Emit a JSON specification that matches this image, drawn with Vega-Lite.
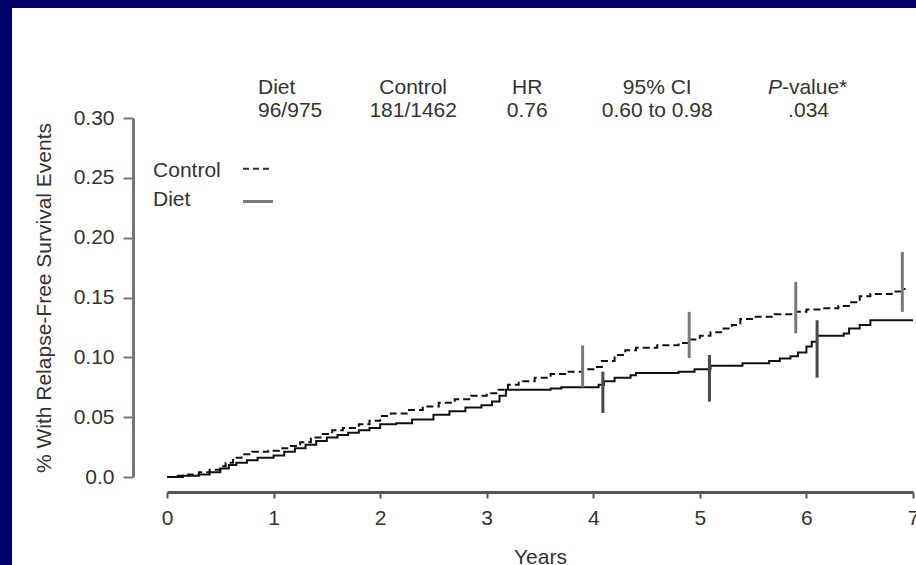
{
  "$schema": "https://vega.github.io/schema/vega-lite/v6.json",
  "width": 746,
  "height": 359,
  "autosize": {"type": "none"},
  "padding": {"left": 167, "top": 118, "right": 3, "bottom": 88},
  "background": "#00006a",
  "data": {"values": [{}]},
  "config": {
    "view": {"stroke": null},
    "font": "Liberation Sans",
    "text": {"font": "Liberation Sans", "fontSize": 21, "color": "#333", "baseline": "middle"},
    "axis": {"grid": false, "labelFont": "Liberation Sans", "titleFont": "Liberation Sans", "labelColor": "#333", "titleColor": "#333", "titleFontWeight": "normal", "labelFontSize": 21, "titleFontSize": 21}
  },
  "datasets": {
    "km": [
      {"series": "Control", "t": 0, "v": 0},
      {"series": "Control", "t": 0.1, "v": 0.001},
      {"series": "Control", "t": 0.2, "v": 0.002},
      {"series": "Control", "t": 0.3, "v": 0.004},
      {"series": "Control", "t": 0.4, "v": 0.006},
      {"series": "Control", "t": 0.5, "v": 0.009},
      {"series": "Control", "t": 0.55, "v": 0.012},
      {"series": "Control", "t": 0.62, "v": 0.016},
      {"series": "Control", "t": 0.7, "v": 0.019},
      {"series": "Control", "t": 0.8, "v": 0.021},
      {"series": "Control", "t": 0.95, "v": 0.022},
      {"series": "Control", "t": 1.05, "v": 0.024},
      {"series": "Control", "t": 1.15, "v": 0.026},
      {"series": "Control", "t": 1.25, "v": 0.029},
      {"series": "Control", "t": 1.35, "v": 0.033},
      {"series": "Control", "t": 1.45, "v": 0.036},
      {"series": "Control", "t": 1.55, "v": 0.039},
      {"series": "Control", "t": 1.65, "v": 0.041},
      {"series": "Control", "t": 1.8, "v": 0.044},
      {"series": "Control", "t": 1.9, "v": 0.047},
      {"series": "Control", "t": 2.0, "v": 0.051},
      {"series": "Control", "t": 2.1, "v": 0.053},
      {"series": "Control", "t": 2.25, "v": 0.056},
      {"series": "Control", "t": 2.4, "v": 0.059},
      {"series": "Control", "t": 2.55, "v": 0.062},
      {"series": "Control", "t": 2.7, "v": 0.065},
      {"series": "Control", "t": 2.85, "v": 0.068},
      {"series": "Control", "t": 3.0, "v": 0.07},
      {"series": "Control", "t": 3.1, "v": 0.073},
      {"series": "Control", "t": 3.2, "v": 0.077},
      {"series": "Control", "t": 3.3, "v": 0.08},
      {"series": "Control", "t": 3.45, "v": 0.083},
      {"series": "Control", "t": 3.6, "v": 0.086},
      {"series": "Control", "t": 3.75, "v": 0.088},
      {"series": "Control", "t": 3.9, "v": 0.09},
      {"series": "Control", "t": 4.0, "v": 0.092},
      {"series": "Control", "t": 4.08, "v": 0.097},
      {"series": "Control", "t": 4.2, "v": 0.102},
      {"series": "Control", "t": 4.3, "v": 0.106},
      {"series": "Control", "t": 4.4, "v": 0.108},
      {"series": "Control", "t": 4.6, "v": 0.11},
      {"series": "Control", "t": 4.8, "v": 0.112},
      {"series": "Control", "t": 4.9, "v": 0.115},
      {"series": "Control", "t": 5.0, "v": 0.118},
      {"series": "Control", "t": 5.1, "v": 0.121},
      {"series": "Control", "t": 5.2, "v": 0.124},
      {"series": "Control", "t": 5.3, "v": 0.127},
      {"series": "Control", "t": 5.38, "v": 0.132},
      {"series": "Control", "t": 5.5, "v": 0.134},
      {"series": "Control", "t": 5.7, "v": 0.136},
      {"series": "Control", "t": 5.9, "v": 0.138},
      {"series": "Control", "t": 6.0, "v": 0.14},
      {"series": "Control", "t": 6.15, "v": 0.141},
      {"series": "Control", "t": 6.3, "v": 0.143},
      {"series": "Control", "t": 6.42, "v": 0.146},
      {"series": "Control", "t": 6.5, "v": 0.151},
      {"series": "Control", "t": 6.6, "v": 0.153},
      {"series": "Control", "t": 6.8, "v": 0.155},
      {"series": "Control", "t": 6.9, "v": 0.157},
      {"series": "Control", "t": 6.93, "v": 0.157},
      {"series": "Diet", "t": 0, "v": 0},
      {"series": "Diet", "t": 0.15, "v": 0.001},
      {"series": "Diet", "t": 0.3, "v": 0.002},
      {"series": "Diet", "t": 0.4, "v": 0.004},
      {"series": "Diet", "t": 0.5, "v": 0.007},
      {"series": "Diet", "t": 0.58, "v": 0.01},
      {"series": "Diet", "t": 0.65, "v": 0.012},
      {"series": "Diet", "t": 0.75, "v": 0.014},
      {"series": "Diet", "t": 0.85, "v": 0.016},
      {"series": "Diet", "t": 1.0, "v": 0.018},
      {"series": "Diet", "t": 1.1, "v": 0.021},
      {"series": "Diet", "t": 1.2, "v": 0.024},
      {"series": "Diet", "t": 1.3, "v": 0.027},
      {"series": "Diet", "t": 1.4, "v": 0.03},
      {"series": "Diet", "t": 1.5, "v": 0.033},
      {"series": "Diet", "t": 1.6, "v": 0.035},
      {"series": "Diet", "t": 1.7, "v": 0.037},
      {"series": "Diet", "t": 1.8, "v": 0.039},
      {"series": "Diet", "t": 1.9, "v": 0.041},
      {"series": "Diet", "t": 2.0, "v": 0.044},
      {"series": "Diet", "t": 2.15, "v": 0.045},
      {"series": "Diet", "t": 2.3, "v": 0.048},
      {"series": "Diet", "t": 2.5, "v": 0.052},
      {"series": "Diet", "t": 2.65, "v": 0.055},
      {"series": "Diet", "t": 2.8, "v": 0.058},
      {"series": "Diet", "t": 2.95, "v": 0.06},
      {"series": "Diet", "t": 3.05, "v": 0.063},
      {"series": "Diet", "t": 3.12, "v": 0.068},
      {"series": "Diet", "t": 3.18, "v": 0.073},
      {"series": "Diet", "t": 3.6, "v": 0.074},
      {"series": "Diet", "t": 3.7, "v": 0.075},
      {"series": "Diet", "t": 4.05, "v": 0.077},
      {"series": "Diet", "t": 4.1, "v": 0.08},
      {"series": "Diet", "t": 4.2, "v": 0.083},
      {"series": "Diet", "t": 4.35, "v": 0.085},
      {"series": "Diet", "t": 4.4, "v": 0.087},
      {"series": "Diet", "t": 4.8, "v": 0.088},
      {"series": "Diet", "t": 4.95, "v": 0.09},
      {"series": "Diet", "t": 5.1, "v": 0.093},
      {"series": "Diet", "t": 5.4, "v": 0.095},
      {"series": "Diet", "t": 5.65, "v": 0.097},
      {"series": "Diet", "t": 5.75, "v": 0.099},
      {"series": "Diet", "t": 5.85, "v": 0.101},
      {"series": "Diet", "t": 5.92, "v": 0.104},
      {"series": "Diet", "t": 6.0, "v": 0.109},
      {"series": "Diet", "t": 6.05, "v": 0.113},
      {"series": "Diet", "t": 6.1, "v": 0.118},
      {"series": "Diet", "t": 6.35, "v": 0.12},
      {"series": "Diet", "t": 6.4, "v": 0.124},
      {"series": "Diet", "t": 6.5, "v": 0.127},
      {"series": "Diet", "t": 6.6, "v": 0.131},
      {"series": "Diet", "t": 7.0, "v": 0.131}
    ],
    "ci": [
      {"series": "Control", "t": 3.9, "lo": 0.075, "hi": 0.11},
      {"series": "Control", "t": 4.9, "lo": 0.0995, "hi": 0.138},
      {"series": "Control", "t": 5.9, "lo": 0.12, "hi": 0.163},
      {"series": "Control", "t": 6.9, "lo": 0.138, "hi": 0.188},
      {"series": "Diet", "t": 4.09, "lo": 0.0535, "hi": 0.088},
      {"series": "Diet", "t": 5.09, "lo": 0.063, "hi": 0.102},
      {"series": "Diet", "t": 6.1, "lo": 0.083, "hi": 0.131}
    ]
  },
  "layer": [
    {
      "mark": {"type": "rect", "color": "white"},
      "encoding": {
        "x": {"datum": -1.454, "type": "quantitative"},
        "x2": {"datum": 7.3},
        "y": {"datum": 0.392, "type": "quantitative"},
        "y2": {"datum": -0.1}
      }
    },
    {
      "data": {"name": "km"},
      "mark": {"type": "line", "interpolate": "step-after", "color": "#111", "strokeWidth": 2},
      "encoding": {
        "x": {"field": "t", "type": "quantitative",
          "scale": {"domain": [0, 7], "nice": false, "zero": false},
          "axis": {"zindex": 1, "title": "Years", "values": [0, 1, 2, 3, 4, 5, 6, 7], "format": "d", "offset": 15, "tickSize": 6, "tickWidth": 2, "tickColor": "#555", "domainColor": "#555", "domainWidth": 3, "labelPadding": 9, "titlePadding": 18, "labelFlush": false}},
        "y": {"field": "v", "type": "quantitative",
          "scale": {"domain": [0, 0.3], "nice": false, "zero": false},
          "axis": {"zindex": 1, "title": "% With Relapse-Free Survival Events", "values": [0, 0.05, 0.1, 0.15, 0.2, 0.25, 0.3], "labelExpr": "datum.value === 0 ? '0.0' : format(datum.value, '.2f')", "offset": 34, "tickSize": 10, "tickWidth": 2, "tickColor": "#777", "domainColor": "#777", "domainWidth": 3, "labelPadding": 9, "titlePadding": 19, "labelFlush": false}},
        "strokeDash": {"field": "series", "type": "nominal", "scale": {"domain": ["Control", "Diet"], "range": [[7, 4], [1, 0]]}, "legend": null}
      }
    },
    {
      "data": {"name": "ci"},
      "mark": {"type": "rule", "strokeWidth": 3},
      "encoding": {
        "x": {"field": "t", "type": "quantitative"},
        "y": {"field": "lo", "type": "quantitative"},
        "y2": {"field": "hi"},
        "color": {"field": "series", "type": "nominal", "scale": {"domain": ["Control", "Diet"], "range": ["#7a7a7a", "#4a4a4a"]}, "legend": null}
      }
    },
    {
      "mark": {"type": "text", "text": "Diet", "align": "left"},
      "encoding": {"x": {"datum": 0.854, "type": "quantitative"}, "y": {"datum": 0.325, "type": "quantitative"}}
    },
    {
      "mark": {"type": "text", "text": "96/975", "align": "left"},
      "encoding": {"x": {"datum": 0.854, "type": "quantitative"}, "y": {"datum": 0.3055, "type": "quantitative"}}
    },
    {
      "mark": {"type": "text", "text": "Control", "align": "center"},
      "encoding": {"x": {"datum": 2.31, "type": "quantitative"}, "y": {"datum": 0.325, "type": "quantitative"}}
    },
    {
      "mark": {"type": "text", "text": "181/1462", "align": "center"},
      "encoding": {"x": {"datum": 2.31, "type": "quantitative"}, "y": {"datum": 0.3055, "type": "quantitative"}}
    },
    {
      "mark": {"type": "text", "text": "HR", "align": "center"},
      "encoding": {"x": {"datum": 3.38, "type": "quantitative"}, "y": {"datum": 0.325, "type": "quantitative"}}
    },
    {
      "mark": {"type": "text", "text": "0.76", "align": "center"},
      "encoding": {"x": {"datum": 3.38, "type": "quantitative"}, "y": {"datum": 0.3055, "type": "quantitative"}}
    },
    {
      "mark": {"type": "text", "text": "95% CI", "align": "center"},
      "encoding": {"x": {"datum": 4.6, "type": "quantitative"}, "y": {"datum": 0.325, "type": "quantitative"}}
    },
    {
      "mark": {"type": "text", "text": "0.60 to 0.98", "align": "center"},
      "encoding": {"x": {"datum": 4.6, "type": "quantitative"}, "y": {"datum": 0.3055, "type": "quantitative"}}
    },
    {
      "mark": {"type": "text", "text": "P", "align": "right", "fontStyle": "italic"},
      "encoding": {"x": {"datum": 5.77, "type": "quantitative"}, "y": {"datum": 0.325, "type": "quantitative"}}
    },
    {
      "mark": {"type": "text", "text": "-value*", "align": "left"},
      "encoding": {"x": {"datum": 5.77, "type": "quantitative"}, "y": {"datum": 0.325, "type": "quantitative"}}
    },
    {
      "mark": {"type": "text", "text": ".034", "align": "center"},
      "encoding": {"x": {"datum": 6.02, "type": "quantitative"}, "y": {"datum": 0.3055, "type": "quantitative"}}
    },
    {
      "mark": {"type": "text", "text": "Control", "align": "left"},
      "encoding": {"x": {"datum": -0.131, "type": "quantitative"}, "y": {"datum": 0.2556, "type": "quantitative"}}
    },
    {
      "mark": {"type": "text", "text": "Diet", "align": "left"},
      "encoding": {"x": {"datum": -0.131, "type": "quantitative"}, "y": {"datum": 0.2314, "type": "quantitative"}}
    },
    {
      "mark": {"type": "rule", "color": "#333", "strokeWidth": 2, "strokeDash": [6, 4]},
      "encoding": {"x": {"datum": 0.713, "type": "quantitative"}, "x2": {"datum": 0.994}, "y": {"datum": 0.2575, "type": "quantitative"}}
    },
    {
      "mark": {"type": "rule", "color": "#777", "strokeWidth": 3},
      "encoding": {"x": {"datum": 0.713, "type": "quantitative"}, "x2": {"datum": 0.994}, "y": {"datum": 0.2302, "type": "quantitative"}}
    }
  ]
}
